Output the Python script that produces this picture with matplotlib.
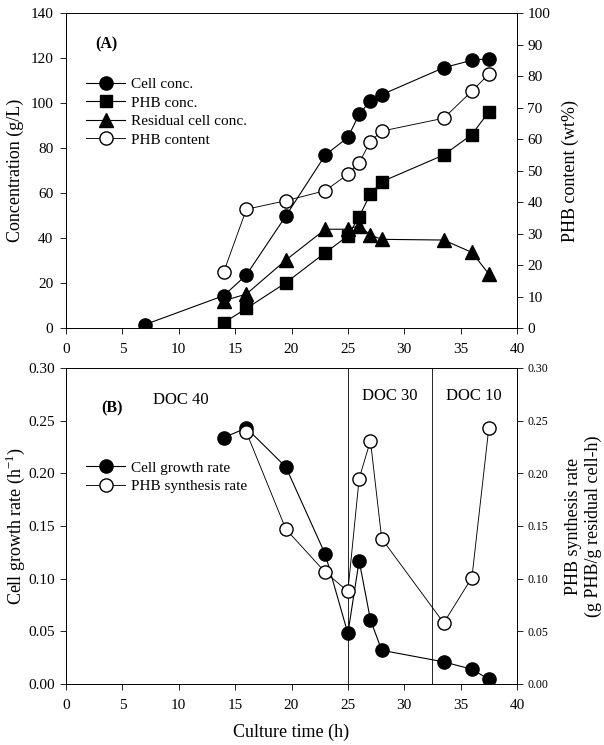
import matplotlib
matplotlib.use("Agg")
import matplotlib.pyplot as plt

plt.rcParams['font.family'] = ['Liberation Serif', 'DejaVu Serif']
plt.rcParams['mathtext.fontset'] = 'custom'
plt.rcParams['mathtext.rm'] = 'Liberation Serif'

# Panel A data
time_a = [7, 14, 16, 19.5, 23, 25, 26, 27, 28, 33.5, 36, 37.5]
cell_conc = [1.5, 14.4, 23.6, 49.8, 76.9, 84.7, 95, 101, 103.7, 115.7, 119, 119.7]
time_b = [14, 16, 19.5, 23, 25, 26, 27, 28, 33.5, 36, 37.5]
phb_conc = [2.4, 8.7, 20.1, 33.5, 40.9, 49.5, 59.6, 65, 76.9, 86, 96.1]
resid_conc = [12.1, 15.1, 30.2, 43.9, 43.9, 45.5, 41.3, 39.4, 39.1, 33.6, 24]
phb_content = [17.9, 37.7, 40.4, 43.6, 48.8, 52.5, 59.2, 62.5, 66.6, 75.2, 80.6]

# Panel B data
time_g = [14, 16, 19.5, 23, 25, 26, 27, 28, 33.5, 36, 37.5]
growth_rate = [0.234, 0.243, 0.206, 0.123, 0.048, 0.117, 0.061, 0.032, 0.021, 0.014, 0.0045]
time_s = [16, 19.5, 23, 25, 26, 27, 28, 33.5, 36, 37.5]
synth_rate = [0.239, 0.147, 0.106, 0.088, 0.195, 0.231, 0.138, 0.058, 0.101, 0.243]

doc_bounds = [25, 32.5]
doc_labels = ['DOC 40', 'DOC 30', 'DOC 10']
doc_label_x = [10.2, 28.7, 36.2]

fig = plt.figure(figsize=(6.04, 7.45), dpi=100)
W, H = 604, 745
def rect(l, t, r, b):
    return [l / W, 1 - b / H, (r - l) / W, (b - t) / H]

lw = 0.8
ms = 9.5
tick_kw = dict(direction='out', length=4, width=0.6)

# ---------- Panel A ----------
ax1 = fig.add_axes(rect(66, 13, 517, 328))
ax1.plot(time_a, cell_conc, '-o', color='black', mfc='black', mec='black', ms=ms, lw=lw, label='Cell conc.')
ax1.plot(time_b, phb_conc, '-s', color='black', mfc='black', mec='black', ms=ms - 0.5, lw=lw, label='PHB conc.')
ax1.plot(time_b, resid_conc, '-^', color='black', mfc='black', mec='black', ms=ms, lw=lw, label='Residual cell conc.')
ax1.set_xlim(0, 40)
ax1.set_ylim(0, 140)
ax1.set_xticks(range(0, 41, 5))
ax1.set_yticks(range(0, 141, 20))
ax1.tick_params(labelsize=11, pad=5, **tick_kw)
ax1.tick_params(axis='x', pad=7)
ax1.set_ylabel('Concentration (g/L)', fontsize=13, labelpad=5)
ax2 = ax1.twinx()
ax2.plot(time_b, phb_content, '-o', color='black', mfc='white', mec='black', ms=ms, lw=lw * 0.8, label='PHB content')
ax2.set_ylim(0, 100)
ax2.set_yticks(range(0, 101, 10))
ax2.tick_params(labelsize=11, **tick_kw)
ax2.set_ylabel('PHB content (wt%)', fontsize=13, labelpad=8)
h1, l1 = ax1.get_legend_handles_labels()
h2, l2 = ax2.get_legend_handles_labels()
ax1.legend(h1 + h2, l1 + l2, loc='upper left', bbox_to_anchor=(0.03, 0.815), frameon=False,
           fontsize=11, handlelength=2.6, handletextpad=0.4, labelspacing=0.32, borderaxespad=0)
ax1.text(3.6, 126, '(A)', fontsize=11.5, fontweight='bold', ha='center', va='center')
for a in (ax1, ax2):
    for s in a.spines.values():
        s.set_linewidth(0.6)

# ---------- Panel B ----------
ax3 = fig.add_axes(rect(66, 368, 517, 684))
ax3.plot(time_g, growth_rate, '-o', color='black', mfc='black', mec='black', ms=ms, lw=lw, label='Cell growth rate')
ax3.set_xlim(0, 40)
ax3.set_ylim(0, 0.30)
ax3.set_xticks(range(0, 41, 5))
ax3.set_yticks([0, 0.05, 0.10, 0.15, 0.20, 0.25, 0.30])
ax3.set_yticklabels(['0.00', '0.05', '0.10', '0.15', '0.20', '0.25', '0.30'])
ax3.tick_params(labelsize=11, pad=4, **tick_kw)
ax3.tick_params(axis='x', pad=7)
ax3.set_ylabel('Cell growth rate (h$^{-1}$)', fontsize=13, labelpad=1)
ax3.set_xlabel('Culture time (h)', fontsize=13, labelpad=8)
for xb in doc_bounds:
    ax3.axvline(xb, color='black', lw=0.6)
ax4 = ax3.twinx()
ax4.plot(time_s, synth_rate, '-o', color='black', mfc='white', mec='black', ms=ms, lw=lw * 0.8, label='PHB synthesis rate')
ax4.set_ylim(0, 0.30)
ax4.set_yticks([0, 0.05, 0.10, 0.15, 0.20, 0.25, 0.30])
ax4.set_yticklabels(['0.00', '0.05', '0.10', '0.15', '0.20', '0.25', '0.30'])
ax4.tick_params(labelsize=8.5, **tick_kw)
ax4.set_ylabel('PHB synthesis rate\n(g PHB/g residual cell-h)', fontsize=13, labelpad=12)
h3, l3 = ax3.get_legend_handles_labels()
h4, l4 = ax4.get_legend_handles_labels()
ax3.legend(h3 + h4, l3 + l4, loc='upper left', bbox_to_anchor=(0.03, 0.725), frameon=False,
           fontsize=11, handlelength=2.6, handletextpad=0.4, labelspacing=0.32, borderaxespad=0)
ax3.text(4.05, 0.262, '(B)', fontsize=11.5, fontweight='bold', ha='center', va='center')
for lab, xx in zip(doc_labels, doc_label_x):
    yy = 0.270 if lab == 'DOC 40' else 0.273
    ax3.text(xx, yy, lab, fontsize=12, ha='center', va='center')
for a in (ax3, ax4):
    for s in a.spines.values():
        s.set_linewidth(0.6)

fig.savefig('out.png', dpi=100)
